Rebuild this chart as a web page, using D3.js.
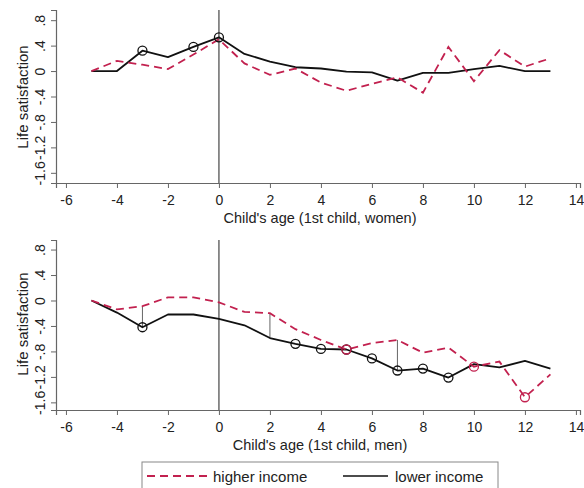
<!DOCTYPE html>
<html>
<head>
<meta charset="utf-8">
<script src="https://cdn.jsdelivr.net/npm/d3@7"></script>
<style>
	body { margin: 0; background: #fff; }
	svg { display: block; font-family: "Liberation Sans", Arial, sans-serif; }
</style>
</head>
<body>
<div id="chart"></div>
<script>
// ages relative to birth of 1st child
const ages = [-5, -4, -3, -2, -1, 0, 1, 2, 3, 4, 5, 6, 7, 8, 9, 10, 11, 12, 13];

const womenHigher = [0, 0.16, 0.1, 0.03, 0.26, 0.5, 0.12, -0.06, 0.04, -0.18, -0.31, -0.2, -0.1, -0.34, 0.38, -0.16, 0.33, 0.07, 0.2];
const womenLower  = [0, 0, 0.32, 0.22, 0.38, 0.53, 0.27, 0.15, 0.06, 0.04, -0.01, -0.02, -0.15, -0.03, -0.03, 0.03, 0.08, 0, 0];

const menHigher = [0, -0.14, -0.09, 0.05, 0.05, -0.03, -0.18, -0.2, -0.45, -0.62, -0.77, -0.67, -0.62, -0.82, -0.74, -1.04, -0.96, -1.52, -1.16];
const menLower  = [0, -0.19, -0.42, -0.22, -0.22, -0.29, -0.39, -0.59, -0.68, -0.76, -0.77, -0.91, -1.1, -1.07, -1.21, -1.0, -1.05, -0.95, -1.07];

// ages where a marker (significant estimate) is shown
const womenLowerMarked = [-3, -1, 0];
const womenHigherMarked = [];
const menLowerMarked = [-3, 3, 4, 5, 6, 7, 8, 9];
const menHigherMarked = [5, 10, 12];
// ages with a connecting gap bar between groups
const womenGaps = [];
const menGaps = [-3, 2, 7];

const xTicks = [-6, -4, -2, 0, 2, 4, 6, 8, 10, 12, 14];
const yTicks = [0.8, 0.4, 0, -0.4, -0.8, -1.2, -1.6];
const yTickLabels = ['.8', '.4', '0', '-.4', '-.8', '-1.2', '-1.6'];

const RED = '#c2214f';

const width = 584, height = 488;

const svg = d3.select('#chart').append('svg')
	.attr('width', width)
	.attr('height', height);

function drawPanel(o){
	const g = svg.append('g');

	const x = d3.scaleLinear()
		.domain([-6.39, 14.16])
		.range([56, 580]);

	const y = d3.scaleLinear()
		.domain(o.yDomain)
		.range([o.bottom, o.top]);

	// axes, Stata style
	const xAxis = g.append('g')
		.attr('transform', `translate(0, ${o.bottom})`)
		.call(d3.axisBottom(x).tickValues(xTicks).tickSizeOuter(0).tickSize(5).tickPadding(7));
	xAxis.select('.domain').attr('stroke', '#666').attr('stroke-width', 1.2);
	xAxis.selectAll('.tick line').attr('stroke', '#666');
	xAxis.selectAll('.tick text')
		.attr('font-size', 14)
		.attr('fill', '#222')
		.text(d => d < 0 ? '-' + Math.abs(d) : d);

	const yAxis = g.append('g')
		.attr('transform', 'translate(56, 0)')
		.call(d3.axisLeft(y).tickValues(yTicks).tickSizeOuter(0).tickSize(5).tickFormat((d, i) => yTickLabels[i]));
	yAxis.select('.domain').attr('stroke', '#666').attr('stroke-width', 1.2);
	yAxis.selectAll('.tick line').attr('stroke', '#666');
	yAxis.selectAll('.tick text')
		.attr('font-size', 14)
		.attr('fill', '#222')
		.attr('text-anchor', 'middle')
		.attr('dy', 0)
		.attr('transform', 'translate(-15, 0) rotate(-90)')
		.attr('x', 0)
		.attr('y', 0)
		.attr('dominant-baseline', 'middle');

	// line at birth of child
	g.append('line')
		.attr('x1', x(0)).attr('x2', x(0))
		.attr('y1', o.top).attr('y2', o.bottom)
		.attr('stroke', '#444')
		.attr('stroke-width', 1.2);

	// axis titles
	g.append('text')
		.attr('x', 320)
		.attr('y', o.bottom + 40)
		.attr('text-anchor', 'middle')
		.attr('font-size', 14.5)
		.attr('fill', '#222')
		.text(o.xTitle);

	g.append('text')
		.attr('transform', `translate(28, ${o.labelY}) rotate(-90)`)
		.attr('text-anchor', 'middle')
		.attr('font-size', 15)
		.attr('fill', '#222')
		.text('Life satisfaction');

	// gap bars
	g.selectAll('.gap')
		.data(o.gaps)
		.join('line')
		.attr('class', 'gap')
		.attr('x1', d => x(d)).attr('x2', d => x(d))
		.attr('y1', d => y(o.higher[ages.indexOf(d)]))
		.attr('y2', d => y(o.lower[ages.indexOf(d)]))
		.attr('stroke', '#666')
		.attr('stroke-width', 1);

	const line = d3.line()
		.x((d, i) => x(ages[i]))
		.y(d => y(d));

	g.append('path')
		.datum(o.lower)
		.attr('d', line)
		.attr('fill', 'none')
		.attr('stroke', '#111')
		.attr('stroke-width', 1.8)
		.attr('stroke-linejoin', 'round');

	g.append('path')
		.datum(o.higher)
		.attr('d', line)
		.attr('fill', 'none')
		.attr('stroke', RED)
		.attr('stroke-width', 1.8)
		.attr('stroke-dasharray', '8,5');

	g.selectAll('.mk-low')
		.data(o.lowerMarked)
		.join('circle')
		.attr('class', 'mk-low')
		.attr('cx', d => x(d))
		.attr('cy', d => y(o.lower[ages.indexOf(d)]))
		.attr('r', 4.5)
		.attr('fill', 'none')
		.attr('stroke', '#111')
		.attr('stroke-width', 1.3);

	g.selectAll('.mk-high')
		.data(o.higherMarked)
		.join('circle')
		.attr('class', 'mk-high')
		.attr('cx', d => x(d))
		.attr('cy', d => y(o.higher[ages.indexOf(d)]))
		.attr('r', 4.5)
		.attr('fill', 'none')
		.attr('stroke', RED)
		.attr('stroke-width', 1.3);
}

drawPanel({
	top: 10, bottom: 183, yDomain: [-1.76, 0.96], labelY: 97,
	xTitle: "Child's age (1st child, women)",
	higher: womenHigher, lower: womenLower,
	higherMarked: womenHigherMarked, lowerMarked: womenLowerMarked,
	gaps: womenGaps
});

drawPanel({
	top: 240, bottom: 410, yDomain: [-1.72, 0.95], labelY: 324,
	xTitle: "Child's age (1st child, men)",
	higher: menHigher, lower: menLower,
	higherMarked: menHigherMarked, lowerMarked: menLowerMarked,
	gaps: menGaps
});

// legend
const legend = svg.append('g');
legend.append('rect')
	.attr('x', 142).attr('y', 462)
	.attr('width', 356).attr('height', 40)
	.attr('fill', '#fff')
	.attr('stroke', '#888')
	.attr('stroke-width', 1);

legend.append('line')
	.attr('x1', 147).attr('x2', 207)
	.attr('y1', 476).attr('y2', 476)
	.attr('stroke', RED)
	.attr('stroke-width', 1.8)
	.attr('stroke-dasharray', '8,5');
legend.append('text')
	.attr('x', 213).attr('y', 482)
	.attr('font-size', 15)
	.attr('fill', '#222')
	.text('higher income');

legend.append('line')
	.attr('x1', 343).attr('x2', 388)
	.attr('y1', 476).attr('y2', 476)
	.attr('stroke', '#111')
	.attr('stroke-width', 1.5);
legend.append('text')
	.attr('x', 395).attr('y', 482)
	.attr('font-size', 15)
	.attr('fill', '#222')
	.text('lower income');
</script>
</body>
</html>
